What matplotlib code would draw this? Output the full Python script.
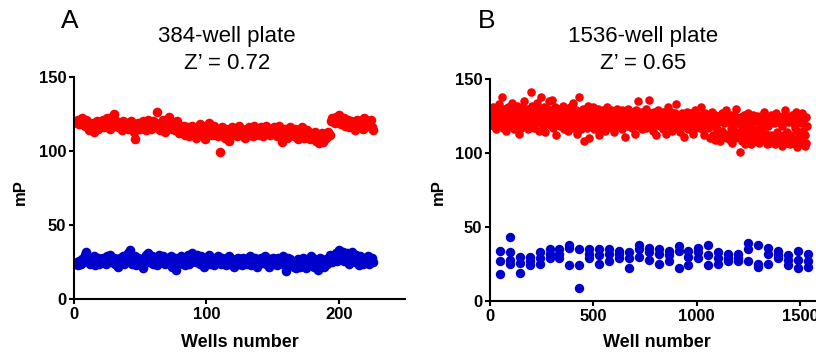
import numpy as np
import matplotlib.pyplot as plt

plt.rcParams['font.family'] = ['Liberation Sans', 'DejaVu Sans']

# ---- 384-well plate (panel A) ----
red_a = [120, 119, 121, 118, 120, 122, 119, 117, 121, 120,
         114, 118, 116, 119, 113, 117, 120, 115, 118, 116,
         119, 121, 116, 118, 122, 117, 115, 120, 123, 125,
         121, 118, 116, 119, 117, 114, 120, 118, 116, 119,
         115, 118, 120, 117, 113, 108, 116, 119, 117, 115,
         118, 120, 116, 114, 119, 121, 117, 115, 118, 120,
         116, 119, 126, 117, 114, 118, 121, 116, 113, 119,
         120, 123, 117, 115, 118, 114, 116, 120, 112, 117,
         115, 113, 117, 111, 114, 116, 110, 113, 117, 115,
         112, 109, 116, 114, 118, 111, 115, 113, 108, 117,
         116, 119, 113, 111, 115, 117, 112, 114, 110, 99,
         114, 116, 112, 109, 115, 113, 107, 111, 116, 114,
         112, 115, 110, 113, 117, 111, 114, 112, 109, 115,
         113, 116, 111, 114, 110, 117, 112, 115, 113, 111,
         116, 114, 110, 113, 117, 112, 115, 111, 114, 113,
         116, 112, 110, 114, 117, 111, 106, 113, 115, 112,
         109, 114, 116, 111, 113, 110, 115, 112, 108, 114,
         111, 116, 113, 109, 112, 114, 110, 108, 112, 111,
         109, 113, 107, 110, 105, 108, 112, 106, 110, 109,
         112, 113, 111, 120, 122, 121, 119, 123, 120, 124,
         121, 118, 120, 122, 117, 119, 121, 116, 120, 118,
         119, 114, 117, 121, 118, 116, 120, 115, 122, 119,
         117, 120, 118, 121, 116, 114]

blue_a = [24, 25, 23, 26, 24, 27, 25, 30, 32, 28,
          26, 24, 27, 25, 29, 23, 26, 28, 24, 27,
          25, 28, 26, 24, 29, 27, 30, 25, 26, 28,
          24, 27, 22, 26, 28, 25, 29, 24, 27, 26,
          31, 33, 27, 24, 26, 29, 23, 28, 25, 27,
          24, 21, 28, 30, 26, 31, 25, 27, 29, 24,
          28, 26, 23, 30, 27, 25, 29, 26, 24, 28,
          27, 25, 29, 22, 26, 28, 20, 27, 24, 26,
          29, 25, 27, 23, 26, 30, 24, 28, 31, 26,
          28, 25, 30, 27, 24, 29, 26, 22, 28, 25,
          27, 30, 24, 26, 28, 23, 27, 25, 29, 26,
          24, 28, 25, 27, 23, 26, 29, 24, 27, 25,
          22, 27, 25, 28, 24, 26, 23, 28, 25, 27,
          24, 26, 29, 23, 27, 25, 28, 22, 26, 24,
          28, 25, 27, 29, 24, 26, 22, 27, 25, 28,
          24, 26, 23, 28, 25, 27, 24, 29, 26, 19,
          25, 28, 27, 24, 26, 22, 25, 21, 27, 24,
          22, 26, 28, 24, 21, 27, 25, 23, 29, 26,
          22, 27, 24, 20, 26, 28, 23, 25, 22, 27,
          24, 26, 30, 28, 25, 29, 27, 31, 26, 33,
          30, 28, 32, 26, 29, 31, 27, 24, 30, 32,
          28, 25, 30, 27, 23, 29, 26, 24, 28, 25,
          27, 29, 24, 26, 28, 25]

wells_a = np.arange(1, len(red_a) + 1)

# ---- 1536-well plate (panel B), every 3rd well ----
red_b = [122, 127, 119, 125, 131, 121, 118, 126, 129, 123, 116, 124, 128, 120, 133, 125,
         119, 127, 122, 138, 124, 117, 130, 126, 121, 128, 115, 124, 131, 120, 126, 123,
         129, 118, 125, 134, 122, 127, 116, 124, 130, 121, 126, 119, 132, 124, 113, 128,
         123, 126, 117, 131, 125, 120, 128, 135, 122, 118, 127, 124, 130, 116, 125, 129,
         121, 141, 126, 119, 132, 124, 117, 128, 123, 130, 120, 126, 134, 122, 115, 127,
         124, 129, 138, 121, 126, 118, 131, 123, 127, 114, 125, 130, 120, 128, 135, 122,
         126, 119, 129, 124, 136, 121, 117, 128, 123, 131, 112, 125, 127, 120, 130, 124,
         118, 127, 123, 129, 121, 132, 125, 116, 126, 122, 130, 119, 124, 128, 115, 126,
         123, 131, 120, 125, 128, 117, 134, 122, 126, 119, 129, 124, 113, 127, 121, 138,
         125, 120, 128, 116, 123, 130, 119, 126, 108, 124, 129, 121, 117, 127, 132, 110,
         122, 126, 118, 129, 124, 120, 131, 116, 125, 123, 128, 119, 126, 121, 130, 117,
         112, 124, 127, 120, 125, 118, 129, 122, 126, 115, 123, 128, 121, 131, 119, 124,
         126, 120, 123, 129, 117, 125, 122, 128, 114, 124, 127, 119, 130, 121, 125, 118,
         123, 127, 120, 125, 116, 129, 122, 126, 119, 124, 111, 128, 121, 125, 118, 130,
         122, 126, 119, 124, 128, 117, 123, 127, 120, 125, 113, 129, 121, 124, 118, 135,
         126, 120, 123, 128, 116, 124, 121, 127, 119, 125, 122, 130, 117, 124, 126, 120,
         136, 122, 125, 118, 127, 121, 124, 115, 128, 120, 123, 126, 112, 124, 129, 119,
         121, 125, 118, 127, 122, 124, 116, 128, 120, 123, 126, 113, 125, 119, 131, 122,
         124, 118, 126, 121, 128, 115, 123, 120, 125, 122, 127, 117, 133, 121, 124, 119,
         122, 126, 114, 124, 120, 127, 118, 123, 125, 111, 121, 126, 119, 124, 128, 116,
         120, 125, 122, 118, 127, 121, 124, 113, 126, 119, 123, 129, 117, 122, 125, 120,
         124, 118, 126, 121, 131, 116, 123, 120, 125, 112, 122, 127, 119, 124, 121, 126,
         117, 123, 110, 125, 118, 122, 128, 112, 121, 124, 109, 126, 113, 122, 116, 125,
         121, 114, 124, 108, 122, 127, 115, 123, 111, 120, 125, 113, 122, 129, 110, 121,
         124, 112, 122, 109, 126, 116, 107, 123, 118, 112, 125, 110, 122, 130, 114, 120,
         123, 111, 121, 101, 119, 124, 108, 122, 113, 126, 117, 106, 123, 112, 121, 127,
         114, 122, 109, 124, 117, 106, 123, 112, 126, 110, 121, 108, 122, 115, 125, 111,
         116, 123, 107, 121, 112, 125, 109, 122, 114, 118, 128, 108, 121, 113, 124, 106,
         118, 110, 123, 107, 126, 112, 121, 108, 124, 111, 120, 122, 106, 127, 114, 121,
         112, 122, 108, 124, 110, 121, 105, 118, 125, 109, 122, 113, 129, 107, 123, 114,
         121, 108, 124, 112, 106, 122, 110, 126, 107, 120, 123, 109, 117, 128, 104, 115,
         110, 122, 106, 125, 109, 120, 113, 127, 108, 115, 123, 105, 112, 124, 107, 118]

wells_b_red = np.arange(1, 3 * len(red_b), 3)

# control columns, one well position per column
blue_b_cols = [48, 96, 144, 192, 240, 288, 336, 384, 432, 480, 528, 576, 624, 672, 720, 768,
               816, 864, 912, 960, 1008, 1056, 1104, 1152, 1200, 1248, 1296, 1344, 1392, 1440,
               1488, 1536]
blue_b_vals = [[34, 27, 18], [43, 33, 28, 25], [30, 26, 19], [30, 27, 24],
               [33, 29, 25], [35, 32, 29], [35, 32, 29], [38, 36, 24],
               [35, 24, 9], [35, 32, 29], [35, 31, 25], [35, 32, 27],
               [34, 32, 29], [33, 29, 22], [38, 35, 30], [36, 33, 28],
               [35, 32, 25], [34, 31, 27], [37, 34, 22], [34, 30, 24],
               [36, 33, 29], [38, 31, 24], [33, 29, 25], [32, 29, 27],
               [32, 29, 27], [39, 35, 27], [38, 25, 23], [36, 32, 25],
               [34, 31, 29], [31, 28, 24], [34, 28, 22], [32, 27, 23]]

blue_b_x = [c for c, v in zip(blue_b_cols, blue_b_vals) for _ in v]
blue_b_y = [y for v in blue_b_vals for y in v]

RED = '#ff0000'
BLUE = '#0000cc'

fig = plt.figure(figsize=(8.16, 3.52), dpi=100)
ax1 = fig.add_axes([0.0907, 0.1497, 0.4056, 0.6324])
ax2 = fig.add_axes([0.6005, 0.1449, 0.4053, 0.6307])

ax1.scatter(wells_a, red_a, s=48, color=RED, linewidths=0)
ax1.scatter(wells_a, blue_a, s=48, color=BLUE, linewidths=0)
ax2.scatter(wells_b_red, red_b, s=38, color=RED, linewidths=0)
ax2.scatter(blue_b_x, blue_b_y, s=46, color=BLUE, linewidths=0)

ax1.set_xlim(0, 250)
ax1.set_xticks([0, 100, 200])
ax2.set_xlim(0, 1600)
ax2.set_xticks([0, 500, 1000, 1500])

for ax in (ax1, ax2):
    ax.set_ylim(0, 150)
    ax.set_yticks([0, 50, 100, 150])
    for side in ('top', 'right'):
        ax.spines[side].set_visible(False)
    for side in ('left', 'bottom'):
        ax.spines[side].set_linewidth(1.5)
    ax.tick_params(width=1.5, length=3.6, pad=2, labelsize=12)
    for lab in ax.get_xticklabels() + ax.get_yticklabels():
        lab.set_fontweight('bold')

fig.text(0.0858, 0.940, 'A', fontsize=19, ha='center', va='center')
fig.text(0.5968, 0.940, 'B', fontsize=19, ha='center', va='center')

fig.text(0.2782, 0.8949, '384-well plate', fontsize=16, ha='center', va='center')
fig.text(0.2782, 0.821, 'Z\u2019 = 0.72', fontsize=16, ha='center', va='center')
fig.text(0.788, 0.8949, '1536-well plate', fontsize=16, ha='center', va='center')
fig.text(0.788, 0.821, 'Z\u2019 = 0.65', fontsize=16, ha='center', va='center')

fig.text(0.0245, 0.4545, 'mP', fontsize=12, fontweight='bold', rotation=90, ha='center', va='center')
fig.text(0.5368, 0.4545, 'mP', fontsize=12, fontweight='bold', rotation=90, ha='center', va='center')

fig.text(0.2935, 0.0256, 'Wells number', fontsize=13, fontweight='bold', ha='center', va='center')
fig.text(0.805, 0.0256, 'Well number', fontsize=13, fontweight='bold', ha='center', va='center')

plt.savefig('out.png', dpi=100)
